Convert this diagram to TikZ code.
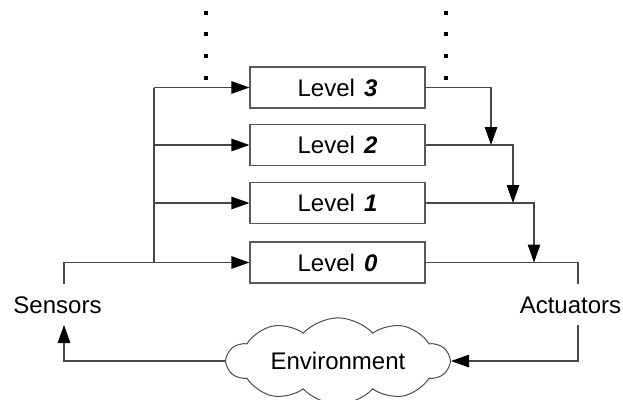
\documentclass[tikz,border=0pt]{standalone}
\usepackage{fontspec}
\setmainfont{Liberation Sans}
\usetikzlibrary{arrows.meta,shapes.symbols}
\begin{document}
\begin{tikzpicture}[x=1pt,y=-1pt,
  txt/.style={font=\fontsize{24}{26}\selectfont, inner sep=0pt},
  level/.style={txt, draw=black!65, line width=1.2pt, fill=white,
    minimum width=175pt, minimum height=41pt},
  wire/.style={draw=black!72, line width=1.2pt},
  arr/.style={wire, -{Triangle[length=18pt,width=12.5pt,color=black]}},
  dotmark/.style={fill=black, minimum size=3.5pt, inner sep=0pt},
  envcloud/.style={cloud, draw=black!70, line width=1pt, cloud puffs=10,
    cloud puff arc=95, aspect=3, minimum width=222pt, minimum height=70pt,
    inner sep=0pt, txt}
]
\useasboundingbox (0,0) rectangle (623,399);

% behaviour levels
\node[level] (l3) at (337.5,87.5)  {Level\hspace{9pt}\textbf{\textit{3}}};
\node[level] (l2) at (337.5,145)   {Level\hspace{9pt}\textbf{\textit{2}}};
\node[level] (l1) at (337.5,203)   {Level\hspace{9pt}\textbf{\textit{1}}};
\node[level] (l0) at (337.5,262.5) {Level\hspace{9pt}\textbf{\textit{0}}};

% further levels above
\foreach \yy [count=\i] in {13,34,56,78} {
  \node[dotmark] (dl\i) at (206,\yy) {};
  \node[dotmark] (dr\i) at (446,\yy) {};
}

% sensors, actuators and the environment
\node[txt] (sen) at (57.5,305) {Sensors};
\node[txt] (act) at (570.5,305) {Actuators};
\node[envcloud] (env) at (338,361) {Environment};

% input bus on the left
\coordinate (b3) at (154,87.5);
\coordinate (b2) at (154,145);
\coordinate (b1) at (154,203);
\coordinate (b0) at (154,262.5);
\coordinate (st) at (64,284);
\coordinate (sb) at (64,325);
\draw[wire] (b0) -- (b3);
\draw[arr] (b3) -- (l3.west);
\draw[arr] (b2) -- (l2.west);
\draw[arr] (b1) -- (l1.west);
\draw[arr] (st) |- (l0.west);

% subsumption chain on the right
\coordinate (j2) at (491,145);
\coordinate (j1) at (513,203);
\coordinate (j0) at (534,262.5);
\coordinate (at) at (578,284);
\coordinate (ab) at (578,325);
\draw[arr] (l3.east) -| (j2);
\draw[arr] (l2.east) -| (j1);
\draw[arr] (l1.east) -| (j0);
\draw[wire] (l0.east) -| (at);

% loop through the environment
\draw[arr] (ab) |- (env.east);
\draw[arr] (env.west) -| (sb);
\end{tikzpicture}
\end{document}
